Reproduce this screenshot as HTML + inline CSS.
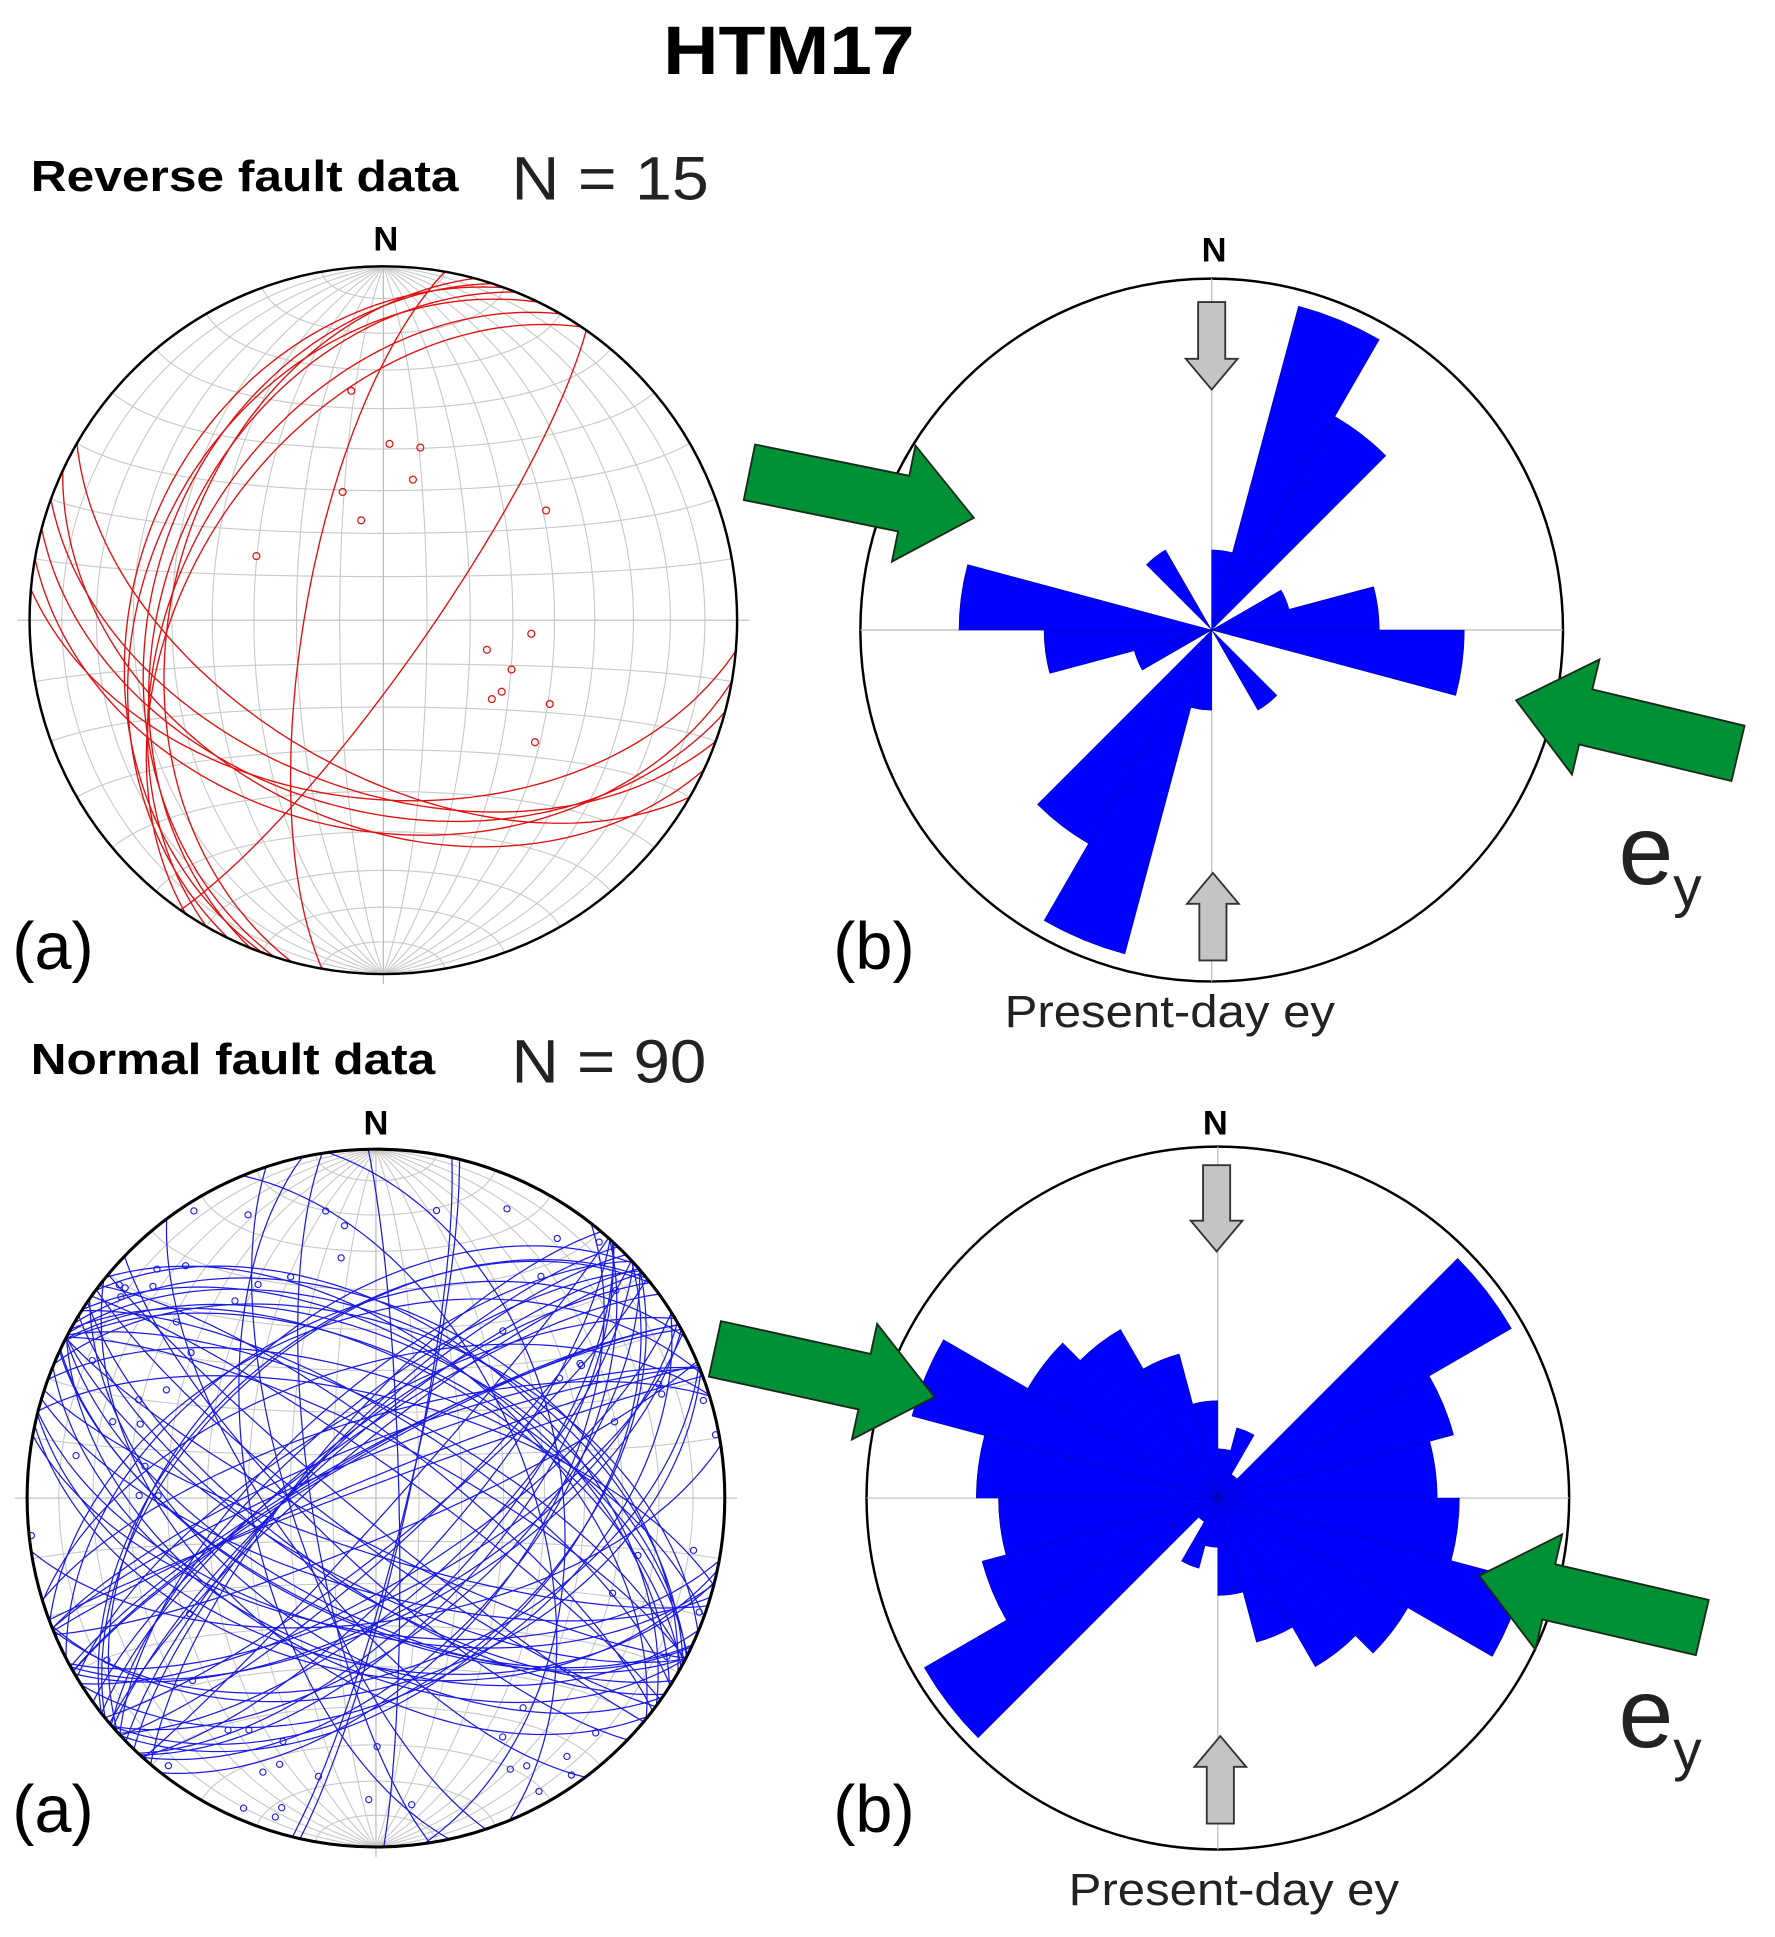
<!DOCTYPE html>
<html><head><meta charset="utf-8"><style>
html,body{margin:0;padding:0;background:#fff;}
svg{display:block;}
text{font-family:"Liberation Sans",Arial,sans-serif;}
</style></head><body>
<svg id="s" xmlns="http://www.w3.org/2000/svg" width="1775" height="1937" viewBox="0 0 1440 1571" preserveAspectRatio="none">
<rect width="1440" height="1571" fill="#fff"/>
<text x="538" y="60" font-size="56" font-weight="bold" textLength="204" lengthAdjust="spacingAndGlyphs">HTM17</text>
<text x="25" y="155" font-size="35" font-weight="bold" textLength="347" lengthAdjust="spacingAndGlyphs">Reverse fault data</text>
<text x="415" y="162" font-size="50" fill="#222" textLength="160" lengthAdjust="spacingAndGlyphs">N = 15</text>
<text x="25" y="871" font-size="35" font-weight="bold" textLength="328" lengthAdjust="spacingAndGlyphs">Normal fault data</text>
<text x="415" y="878" font-size="50" fill="#222" textLength="158" lengthAdjust="spacingAndGlyphs">N = 90</text>
<text x="313" y="203" font-size="28" font-weight="bold" text-anchor="middle">N</text>
<text x="985" y="212" font-size="28" font-weight="bold" text-anchor="middle">N</text>
<text x="305" y="920" font-size="28" font-weight="bold" text-anchor="middle">N</text>
<text x="986" y="920" font-size="28" font-weight="bold" text-anchor="middle">N</text>
<g id="g1"></g><g id="g2"></g><g id="r1"></g><g id="r2"></g><g id="ar"></g>
<text x="10" y="786" font-size="54">(a)</text>
<text x="676" y="786" font-size="54">(b)</text>
<text x="10" y="1486" font-size="54">(a)</text>
<text x="676" y="1486" font-size="54">(b)</text>
<text x="815" y="833" font-size="37" fill="#222" textLength="268" lengthAdjust="spacingAndGlyphs">Present-day ey</text>
<text x="867" y="1545" font-size="37" fill="#222" textLength="268" lengthAdjust="spacingAndGlyphs">Present-day ey</text>
<text x="1313" y="717" font-size="80" fill="#222">e<tspan font-size="46" dy="18">y</tspan></text>
<text x="1313" y="1417" font-size="80" fill="#222">e<tspan font-size="46" dy="18">y</tspan></text>
</svg>
<script>
var NS="http://www.w3.org/2000/svg";
function el(p,t,a){var e=document.createElementNS(NS,t);for(var k in a)e.setAttribute(k,a[k]);p.appendChild(e);return e;}
var D=Math.PI/180;
function proj(v,cx,cy,R){var t=Math.atan2(v[0],v[1]);var pl=Math.asin(Math.max(-1,Math.min(1,-v[2])));var r=R*Math.SQRT2*Math.sin(Math.PI/4-pl/2);return [cx+r*Math.sin(t),cy-r*Math.cos(t)];}
function poly(g,pts,st,w){el(g,"polyline",{points:pts.map(function(p){return p[0].toFixed(1)+","+p[1].toFixed(1)}).join(" "),fill:"none",stroke:st,"stroke-width":w});}
function plane(g,s,d,cx,cy,R,st,w){var S=[Math.sin(s*D),Math.cos(s*D),0];var dd=(s+90)*D;var Dv=[Math.cos(d*D)*Math.sin(dd),Math.cos(d*D)*Math.cos(dd),-Math.sin(d*D)];var pts=[];for(var a=0;a<=180;a+=2){var c=Math.cos(a*D),n=Math.sin(a*D);pts.push(proj([c*S[0]+n*Dv[0],c*S[1]+n*Dv[1],c*S[2]+n*Dv[2]],cx,cy,R));}poly(g,pts,st,w);}
function net(g,cx,cy,R){
 for(var d=10;d<=80;d+=10){plane(g,0,d,cx,cy,R,"#c8c8c8",0.9);plane(g,180,d,cx,cy,R,"#c8c8c8",0.9);}
 for(var c=10;c<=80;c+=10){[1,-1].forEach(function(sg){var pts=[];for(var f=0;f<=180;f+=3){pts.push(proj([Math.sin(c*D)*Math.cos(f*D),sg*Math.cos(c*D),-Math.sin(c*D)*Math.sin(f*D)],cx,cy,R));}poly(g,pts,"#c8c8c8",0.9);});}
 el(g,"line",{x1:cx-R-10,y1:cy,x2:cx+R+10,y2:cy,stroke:"#bbb","stroke-width":1});
 el(g,"line",{x1:cx,y1:cy-R,x2:cx,y2:cy+R+8,stroke:"#bbb","stroke-width":1});
}
var g1=document.getElementById("g1");var c1=[311,503,287];
net(g1,c1[0],c1[1],c1[2]);
[[195,40],[198,35],[202,38],[206,33],[210,42],[200,30],[214,45],[100,40],[105,45],[110,50],[115,42],[95,48],[120,55],[35,80],[190,72]].forEach(function(p){plane(g1,p[0],p[1],c1[0],c1[1],c1[2],"#e01010",1.1);});
[[285,317],[316,360],[341,363],[335,389],[278,399],[293,422],[208,451],[443,414],[431,514],[395,527],[415,543],[407,561],[399,567],[446,571],[434,602]].forEach(function(p){el(g1,"circle",{cx:p[0],cy:p[1],r:2.8,fill:"none",stroke:"#e01010","stroke-width":1});});
el(g1,"circle",{cx:c1[0],cy:c1[1],r:c1[2],fill:"none",stroke:"#000","stroke-width":2});
var g2=document.getElementById("g2");var c2=[305,1215,283];
net(g2,c2[0],c2[1],c2[2]);
var seed=17;function rnd(){seed=(seed*16807)%2147483647;return seed/2147483647;}
for(var i=0;i<90;i++){var s,u=rnd();if(u<0.35)s=40+rnd()*30;else if(u<0.7)s=100+rnd()*30;else s=rnd()*360;if(rnd()<0.5)s+=180;plane(g2,s%360,45+rnd()*42,c2[0],c2[1],c2[2],"#1a1ae6",1);}
for(var i=0;i<70;i++){var t=rnd()*360,pl=rnd()*40;var v=[Math.cos(pl*D)*Math.sin(t*D),Math.cos(pl*D)*Math.cos(t*D),-Math.sin(pl*D)];var p=proj(v,c2[0],c2[1],c2[2]);el(g2,"circle",{cx:p[0],cy:p[1],r:2.5,fill:"none",stroke:"#1a1ae6","stroke-width":0.9});}
el(g2,"circle",{cx:c2[0],cy:c2[1],r:c2[2],fill:"none",stroke:"#000","stroke-width":2.5});
function rose(g,cx,cy,R,radii){
 el(g,"circle",{cx:cx,cy:cy,r:R,fill:"#fff",stroke:"#000","stroke-width":2});
 el(g,"line",{x1:cx-R,y1:cy,x2:cx+R,y2:cy,stroke:"#bbb","stroke-width":1});
 el(g,"line",{x1:cx,y1:cy-R,x2:cx,y2:cy+R,stroke:"#bbb","stroke-width":1});
 for(var k=0;k<24;k++){var r=radii[k%12];if(!r)continue;var a1=k*15*D,a2=(k+1)*15*D;
  var d="M"+cx+","+cy+" L"+(cx+r*Math.sin(a1)).toFixed(1)+","+(cy-r*Math.cos(a1)).toFixed(1)+" A"+r+","+r+" 0 0 1 "+(cx+r*Math.sin(a2)).toFixed(1)+","+(cy-r*Math.cos(a2)).toFixed(1)+" Z";
  el(g,"path",{d:d,fill:"#0000ff",stroke:"#0000a0","stroke-width":0.4});}
}
rose(document.getElementById("r1"),983,511,285,[65,272,200,0,65,136,205,0,0,75,0,0]);
rose(document.getElementById("r2"),988,1215,285,[40,59,22,275,198,178,196,257,178,158,121,79]);
var ar=document.getElementById("ar");
function arrow(tx,ty,hx,hy,sw,hw,hl,fill,st){var dx=hx-tx,dy=hy-ty,L=Math.hypot(dx,dy);var ux=dx/L,uy=dy/L,nx=-uy,ny=ux;var b=L-hl;
 function P(a,o){return (tx+ux*a+nx*o).toFixed(1)+","+(ty+uy*a+ny*o).toFixed(1);}
 el(ar,"polygon",{points:[P(0,-sw/2),P(b,-sw/2),P(b,-hw/2),P(L,0),P(b,hw/2),P(b,sw/2),P(0,sw/2)].join(" "),fill:fill,stroke:st,"stroke-width":1.5});}
var G="#009035",K="#1a2a1a";
arrow(608,383,790,420,46,96,58,G,K);
arrow(1410,611,1230,568,46,96,58,G,K);
arrow(580,1094,758,1133,46,96,58,G,K);
arrow(1381,1320,1200,1278,46,96,58,G,K);
var Gr="#c4c4c4",Kg="#333";
arrow(983,245,983,316,22,42,25,Gr,Kg);
arrow(984,779,984,708,22,42,25,Gr,Kg);
arrow(987,945,987,1015,22,42,25,Gr,Kg);
arrow(990,1479,990,1408,22,42,25,Gr,Kg);
</script>
</body></html>
